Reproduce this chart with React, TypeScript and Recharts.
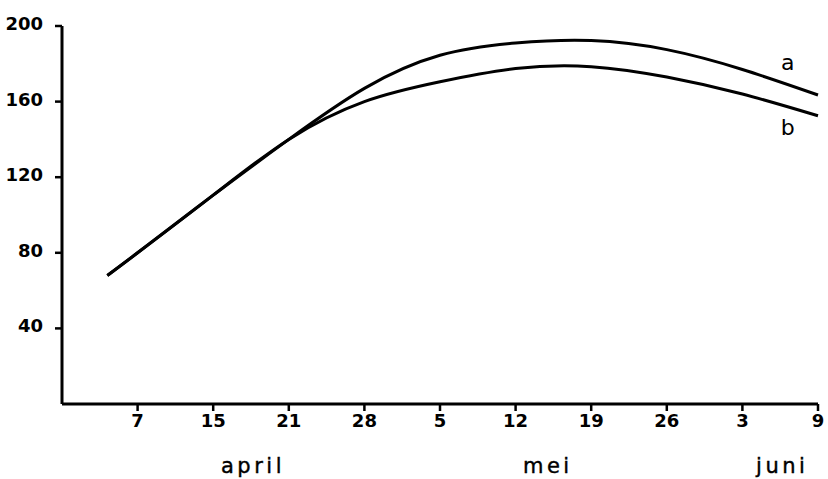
import { LineChart, Line, XAxis, YAxis, ReferenceDot } from 'recharts';

// week index along the season (0 = axis origin, 1 = 7 april ... 10 = 9 juni)
const weeks = [0.6, 1, 2, 3, 4, 5, 6, 7, 8, 9, 10];
const seriesA = [68, 80, 110.5, 140, 167, 184.5, 191, 192.3, 187.5, 177, 163.5];
const seriesB = [68, 80, 110.5, 140, 160, 170.5, 177.5, 178.5, 173, 164, 152.5];

const dayTicks = [1, 2, 3, 4, 5, 6, 7, 8, 9, 10];
const dayLabels = ['7', '15', '21', '28', '5', '12', '19', '26', '3', '9'];

const monthTicks = [2.5, 6.4, 9.5];
const monthLabels = ['april', 'mei', 'juni'];

const yTicks = [40, 80, 120, 160, 200];

const curveLabels = ['a', 'b'];
const curveLabelX = 9.6;
const curveLabelY = [181, 146.6];

const data = weeks.map((w, i) => ({ w, a: seriesA[i], b: seriesB[i] }));

const FONT = '"DejaVu Sans", Arial, sans-serif';

function YTick({ x, y, payload }: any) {
  return (
    <text x={x} y={y} dy={-1} textAnchor="end" dominantBaseline="middle"
      fontFamily={FONT} fontSize={18} fontWeight="bold" fill="#000">
      {payload.value}
    </text>
  );
}

function DayTick({ x, y, payload }: any) {
  const idx = dayTicks.indexOf(payload.value);
  return (
    <text x={x} y={y} dy={13} textAnchor="middle"
      fontFamily={FONT} fontSize={18} fontWeight="bold" fill="#000">
      {dayLabels[idx]}
    </text>
  );
}

function MonthTick({ x, y, payload }: any) {
  const idx = monthTicks.indexOf(payload.value);
  return (
    <text x={x + 2} y={y} dy={15} textAnchor="middle"
      fontFamily={FONT} fontSize={21} letterSpacing={3.5} fill="#000"
      stroke="#000" strokeWidth={0.4}>
      {monthLabels[idx]}
    </text>
  );
}

export default function App() {
  return (
    <div style={{ position: 'absolute', left: 0, top: 0, background: '#fff' }}>
      <LineChart width={828} height={479} data={data}
        margin={{ top: 26, right: 10, bottom: 0, left: 0 }}>
        <XAxis dataKey="w" type="number" domain={[0, 10]} ticks={dayTicks}
          height={30} tick={<DayTick />} tickSize={7} tickMargin={3}
          axisLine={{ stroke: '#000', strokeWidth: 3 }}
          tickLine={{ stroke: '#000', strokeWidth: 2.5 }} />
        <XAxis xAxisId="month" dataKey="w" type="number" domain={[0, 10]}
          ticks={monthTicks} height={45} tick={<MonthTick />}
          tickSize={0} tickMargin={24} axisLine={false} tickLine={false} />
        <YAxis type="number" domain={[0, 200]} ticks={yTicks} width={62}
          tick={<YTick />} tickSize={7} tickMargin={12}
          axisLine={{ stroke: '#000', strokeWidth: 3 }}
          tickLine={{ stroke: '#000', strokeWidth: 2.5 }} />
        <Line type="natural" dataKey="a" stroke="#000" strokeWidth={3}
          dot={false} isAnimationActive={false} />
        <Line type="natural" dataKey="b" stroke="#000" strokeWidth={3}
          dot={false} isAnimationActive={false} />
        {curveLabels.map((lbl, i) => (
          <ReferenceDot key={lbl} x={curveLabelX} y={curveLabelY[i]} r={0}
            fill="none" stroke="none"
            label={{ value: lbl, position: 'center', fontFamily: FONT, fontSize: 22, fill: '#000' }} />
        ))}
      </LineChart>
    </div>
  );
}
